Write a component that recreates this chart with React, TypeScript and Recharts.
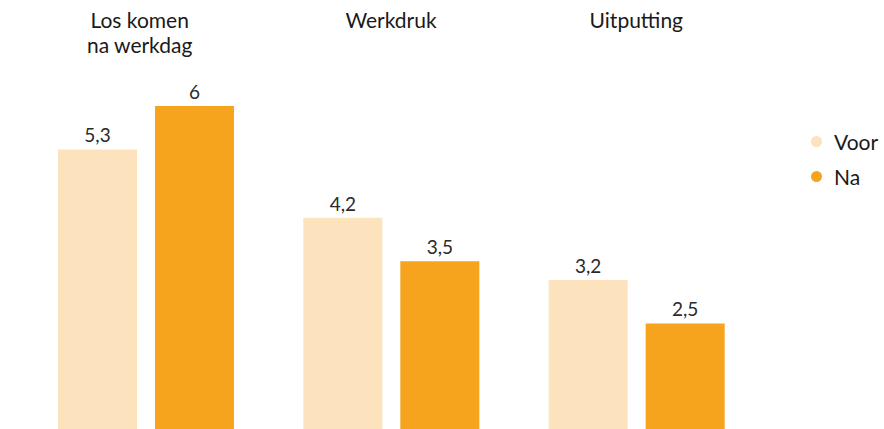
import { Bar, BarChart, LabelList, XAxis, YAxis } from "recharts";

const CATEGORIES = ["Los komen\nna werkdag", "Werkdruk", "Uitputting"];
const VOOR = [5.3, 4.2, 3.2];
const NA = [6, 3.5, 2.5];

const VOOR_COLOR = "#fce2bd";
const NA_COLOR = "#f6a31e";
const FONT = "Lato, 'Open Sans', sans-serif";

const data = CATEGORIES.map((c, i) => ({ name: c, voor: VOOR[i], na: NA[i] }));

const fmt = (v: any) => String(v).replace(".", ",");

function CategoryTick(props: any) {
  const { x, payload } = props;
  const lines = String(payload.value).split("\n");
  return (
    <text textAnchor="middle" fill="#1a1a1a" fontSize={21} fontFamily={FONT}>
      {lines.map((l, i) => (
        <tspan key={i} x={x - (lines.length > 1 ? 6 : 0)} y={28 + i * 25}>
          {l}
        </tspan>
      ))}
    </text>
  );
}

function LegendBox() {
  const items = [
    { label: "Voor", color: VOOR_COLOR },
    { label: "Na", color: NA_COLOR },
  ];
  return (
    <div
      style={{
        position: "absolute",
        left: 811,
        top: 124,
        fontFamily: FONT,
        fontSize: 21,
        color: "#1a1a1a",
      }}
    >
      {items.map((it) => (
        <div key={it.label} style={{ display: "flex", alignItems: "center", height: 35 }}>
          <span
            style={{
              width: 11,
              height: 11,
              borderRadius: "50%",
              background: it.color,
              marginRight: 12,
              display: "inline-block",
            }}
          />
          {it.label}
        </div>
      ))}
    </div>
  );
}

export default function App() {
  return (
    <div style={{ position: "absolute", left: 0, top: 0, width: 884, height: 429, background: "#fff" }}>
      <BarChart
        width={884}
        height={429}
        data={data}
        margin={{ top: 105, right: 125, left: 23, bottom: 0 }}
        barSize={79}
        barGap={18}
      >
        <XAxis
          dataKey="name"
          orientation="top"
          height={1}
          axisLine={false}
          tickLine={false}
          interval={0}
          tick={<CategoryTick />}
        />
        <YAxis hide domain={[0.8, 6]} allowDataOverflow />
        <Bar dataKey="voor" fill={VOOR_COLOR} isAnimationActive={false}>
          <LabelList
            dataKey="voor"
            position="top"
            offset={7}
            formatter={fmt}
            fill="#2a2a2a"
            fontSize={19}
            fontFamily={FONT}
          />
        </Bar>
        <Bar dataKey="na" fill={NA_COLOR} isAnimationActive={false}>
          <LabelList
            dataKey="na"
            position="top"
            offset={7}
            formatter={fmt}
            fill="#2a2a2a"
            fontSize={19}
            fontFamily={FONT}
          />
        </Bar>
      </BarChart>
      <LegendBox />
    </div>
  );
}
